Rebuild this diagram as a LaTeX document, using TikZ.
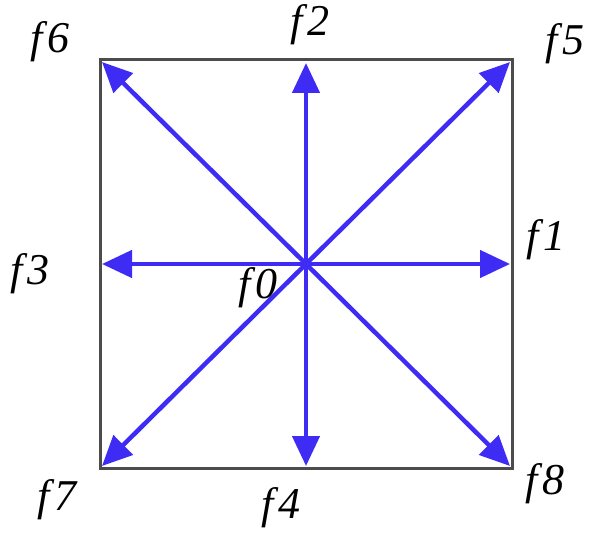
\documentclass[tikz,border=0pt]{standalone}
\usepackage{fontspec}
\setmainfont{Liberation Serif}
\usetikzlibrary{arrows.meta}
\definecolor{dirblue}{RGB}{62,44,245}
\newcommand{\fl}[1]{f\kern4pt#1}
\begin{document}
\begin{tikzpicture}[x=1pt,y=-1pt,
		lbl/.style={font=\fontsize{44}{44}\selectfont\itshape, inner sep=0pt},
		dir/.style={dirblue, line width=4.5pt, -{Triangle[length=30pt,width=27pt]}}]
		\useasboundingbox (0,0) rectangle (593,532);
		\draw[gray!60!black, line width=3pt] (100,60) rectangle (512,468);
		\coordinate (c0) at (306,264);
		\coordinate (e1) at (510,264);
		\coordinate (e2) at (306,63);
		\coordinate (e3) at (102,264);
		\coordinate (e4) at (306,466);
		\coordinate (e5) at (510,62);
		\coordinate (e6) at (102,62);
		\coordinate (e7) at (102,466);
		\coordinate (e8) at (510,466);
		\foreach \i in {1,...,8} \draw[dir] (c0) -- (e\i);
		\node[lbl] (f0) at (258,288) {\fl0};
		\node[lbl] (f1) at (546,240) {\fl1};
		\node[lbl] (f2) at (310,25) {\fl2};
		\node[lbl] (f3) at (30,274) {\fl3};
		\node[lbl] (f4) at (281,508) {\fl4};
		\node[lbl] (f5) at (565,44) {\fl5};
		\node[lbl] (f6) at (50,42) {\fl6};
		\node[lbl] (f7) at (57,500) {\fl7};
		\node[lbl] (f8) at (545,484) {\fl8};
	\end{tikzpicture}
\end{document}
